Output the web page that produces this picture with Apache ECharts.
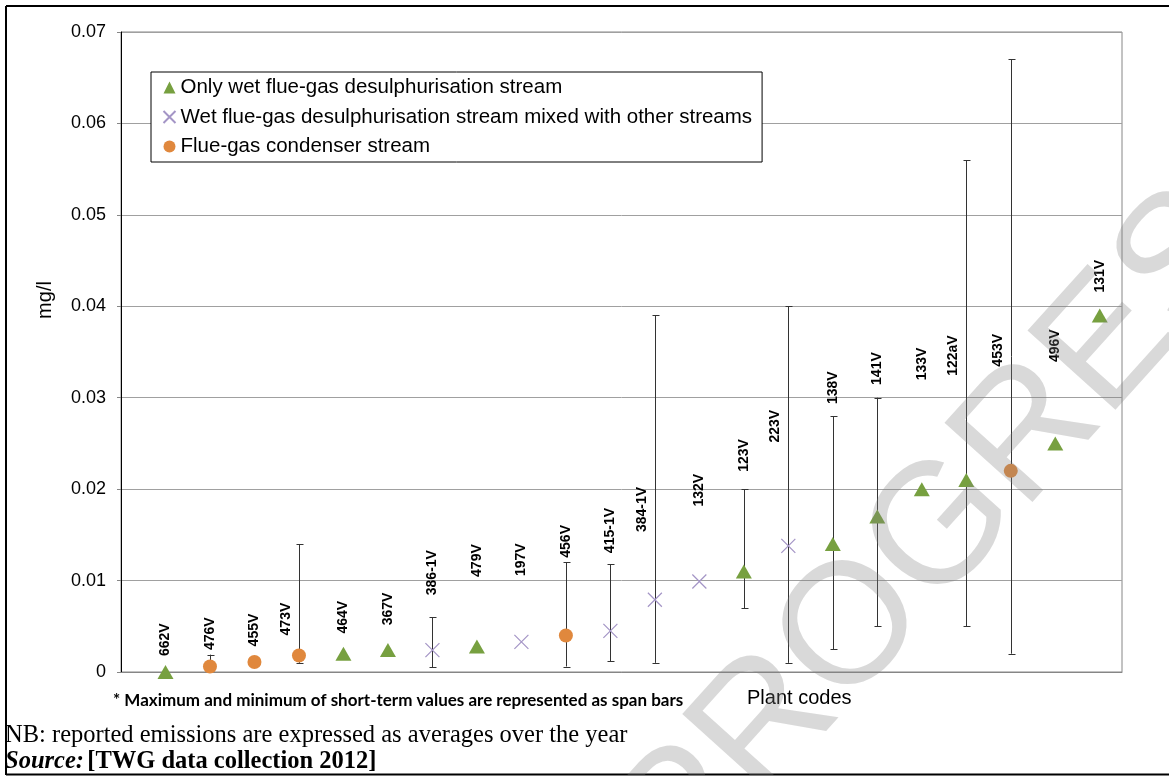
<!DOCTYPE html>
<html>
<head>
<meta charset="utf-8">
<script src="https://cdn.jsdelivr.net/npm/echarts@6/dist/echarts.min.js"></script>
<style>
html, body { margin: 0; padding: 0; background: #fff; }
#main { width: 1169px; height: 776px; }
</style>
</head>
<body>
<div id="main"></div>
<script>
// plant codes, left to right
var plants = ['662V', '476V', '455V', '473V', '464V', '367V', '386-1V', '479V', '197V', '456V', '415-1V',
    '384-1V', '132V', '123V', '223V', '138V', '141V', '133V', '122aV', '453V', '496V', '131V'];
// T = only wet FGD, X = FGD mixed with other streams, C = flue-gas condenser
var kinds = ['T', 'C', 'C', 'C', 'T', 'T', 'X', 'T', 'X', 'C', 'X',
    'X', 'X', 'T', 'X', 'T', 'T', 'T', 'T', 'C', 'T', 'T'];
// yearly average, mg/l
var avg = [0, 0.0006, 0.0011, 0.0018, 0.002, 0.0024, 0.0024, 0.0028, 0.0033, 0.004, 0.0045,
    0.0079, 0.0099, 0.011, 0.0138, 0.014, 0.017, 0.02, 0.021, 0.022, 0.025, 0.039];
// short-term min / max (span bars)
var low = [null, 0.0004, null, 0.001, null, null, 0.0005, null, null, 0.0006, 0.0012,
    0.001, null, 0.007, 0.001, 0.0025, 0.005, null, 0.005, 0.002, null, null];
var high = [null, 0.0019, null, 0.014, null, null, 0.006, null, null, 0.012, 0.0118,
    0.039, null, 0.02, 0.04, 0.028, 0.03, null, 0.056, 0.067, null, null];
// where each plant code label starts, mg/l
var labelAt = [0.00175, 0.0024, 0.0028, 0.004, 0.0042, 0.0051, 0.0084, 0.0104, 0.0105, 0.0125, 0.013,
    0.0153, 0.0181, 0.0219, 0.0251, 0.0293, 0.0314, 0.0319, 0.0324, 0.0334, 0.0339, 0.0415];

var seriesNames = {
    T: 'Only wet flue-gas desulphurisation stream',
    X: 'Wet flue-gas desulphurisation stream mixed with other streams',
    C: 'Flue-gas condenser stream'
};

function pointsOf(k) {
    var out = [];
    for (var i = 0; i < plants.length; i++) {
        if (kinds[i] === k) out.push([i + 1, avg[i]]);
    }
    return out;
}

var spans = [];
var labels = [];
for (var i = 0; i < plants.length; i++) {
    if (low[i] !== null) spans.push([i + 1, low[i], high[i]]);
    labels.push([i + 1, labelAt[i], (high[i] !== null && high[i] > labelAt[i]) ? 1 : 0, i]);
}

var font = '"Liberation Sans", Arial, sans-serif';
var serif = '"Liberation Serif", "Times New Roman", serif';
var dom = document.getElementById('main');
var myChart = echarts.init(dom);

option = {
    animation: false,
    backgroundColor: '#fff',
    textStyle: { fontFamily: font },
    grid: {
        left: 121, right: 47, top: 32, bottom: 104,
        show: true, borderColor: '#868686', borderWidth: 1
    },
    legend: {
        orient: 'vertical',
        left: 151, top: 72,
        padding: [5, 10, 5, 10],
        itemGap: 8.5,
        itemWidth: 12, itemHeight: 12,
        backgroundColor: '#fff',
        borderColor: '#000', borderWidth: 1,
        textStyle: { fontSize: 20.5, color: '#000', fontFamily: font, lineHeight: 20 },
        data: [seriesNames.T, seriesNames.X, seriesNames.C]
    },
    xAxis: {
        type: 'value', min: 0, max: 22.5,
        axisLine: { show: true, lineStyle: { color: '#868686' } },
        axisTick: { show: false },
        axisLabel: { show: false },
        splitLine: { show: false }
    },
    yAxis: {
        type: 'value', min: 0, max: 0.07, interval: 0.01,
        axisLine: { show: true, lineStyle: { color: '#000' } },
        axisTick: { show: true, length: 4, lineStyle: { color: '#868686' } },
        axisLabel: {
            fontSize: 18, color: '#000', margin: 15, fontFamily: font,
            formatter: function (v) { return v === 0 ? '0' : v.toFixed(2); }
        },
        splitLine: { lineStyle: { color: '#a0a0a0' } }
    },
    graphic: [
        { type: 'line', shape: { x1: 6, y1: 6, x2: 1169, y2: 6 }, style: { stroke: '#000', lineWidth: 2 } },
        { type: 'line', shape: { x1: 6, y1: 6, x2: 6, y2: 775 }, style: { stroke: '#000', lineWidth: 2 } },
        { type: 'line', shape: { x1: 6, y1: 774.5, x2: 1169, y2: 774.5 }, style: { stroke: '#000', lineWidth: 2 } },
        { type: 'text', x: 45, y: 300, rotation: Math.PI / 2,
            style: { text: 'mg/l', font: '20px ' + font, fill: '#000', align: 'center', verticalAlign: 'middle' } },
        { type: 'text', x: 113, y: 701,
            style: { text: '* Maximum and minimum of short-term values are represented as span bars',
                font: 'bold 17px Lato, "Open Sans", sans-serif', fill: '#000', verticalAlign: 'middle' } },
        { type: 'text', x: 747, y: 698,
            style: { text: 'Plant codes', font: '20px ' + font, fill: '#000', verticalAlign: 'middle' } },
        { type: 'text', x: 5, y: 736,
            style: { text: 'NB: reported emissions are expressed as averages over the year',
                font: '24.5px ' + serif, fill: '#000', verticalAlign: 'middle' } },
        { type: 'text', x: 5, y: 762,
            style: {
                text: '{a|Source:} {b|[TWG data collection 2012]}',
                verticalAlign: 'middle',
                rich: {
                    a: { font: 'italic bold 24.5px ' + serif, fill: '#000' },
                    b: { font: 'bold 24.5px ' + serif, fill: '#000' }
                }
            } },
        { type: 'text', x: 975, y: 495, rotation: 48 * Math.PI / 180, z: 100,
            style: { text: 'PROGRESS', font: '172px ' + font, fill: 'rgba(128,128,128,0.3)',
                align: 'center', verticalAlign: 'middle' } }
    ],
    series: [
        {
            type: 'custom',
            name: 'span',
            data: spans,
            z: 1,
            renderItem: function (params, api) {
                var top = api.coord([api.value(0), api.value(2)]);
                var bot = api.coord([api.value(0), api.value(1)]);
                var x = Math.round(top[0]) + 0.5;
                var st = { stroke: '#333', lineWidth: 1 };
                return {
                    type: 'group',
                    children: [
                        { type: 'line', shape: { x1: x, y1: top[1], x2: x, y2: bot[1] }, style: st },
                        { type: 'line', shape: { x1: x - 3, y1: Math.round(top[1]) + 0.5, x2: x + 4, y2: Math.round(top[1]) + 0.5 }, style: st },
                        { type: 'line', shape: { x1: x - 3, y1: Math.round(bot[1]) + 0.5, x2: x + 4, y2: Math.round(bot[1]) + 0.5 }, style: st }
                    ]
                };
            }
        },
        {
            type: 'scatter',
            name: seriesNames.T,
            symbol: 'triangle',
            symbolSize: [16, 14],
            z: 3,
            itemStyle: { color: '#77a040', opacity: 1 },
            data: pointsOf('T')
        },
        {
            type: 'scatter',
            name: seriesNames.X,
            symbol: 'path://M0,0L10,10M10,0L0,10',
            symbolSize: 14,
            z: 3,
            itemStyle: { color: 'none', borderColor: '#a495c6', borderWidth: 1.2, opacity: 1 },
            data: pointsOf('X')
        },
        {
            type: 'scatter',
            name: seriesNames.C,
            symbol: 'circle',
            symbolSize: 14,
            z: 3,
            itemStyle: { color: '#e0883d', opacity: 1 },
            data: pointsOf('C')
        },
        {
            type: 'custom',
            name: 'codes',
            data: labels,
            z: 4,
            renderItem: function (params, api) {
                var p = api.coord([api.value(0), api.value(1)]);
                var shift = api.value(2) ? -13 : 0;
                return {
                    type: 'text',
                    x: p[0] + shift,
                    y: p[1],
                    rotation: Math.PI / 2,
                    style: {
                        text: plants[api.value(3)],
                        font: 'bold 14px ' + font,
                        fill: '#000',
                        align: 'left',
                        verticalAlign: 'middle'
                    }
                };
            }
        }
    ]
};

myChart.setOption(option, true);
</script>
</body>
</html>
